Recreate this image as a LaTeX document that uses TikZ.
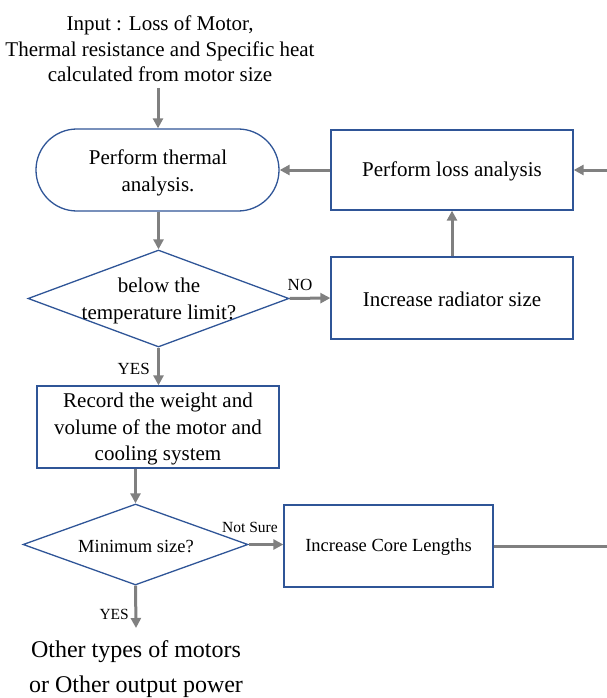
\documentclass[tikz,border=0pt]{standalone}
\usepackage{fontspec}
\setmainfont{Liberation Serif}
\usetikzlibrary{shapes.geometric,arrows.meta,positioning,calc}
\definecolor{boxblue}{HTML}{2F5597}
\definecolor{arrgray}{HTML}{808080}
\tikzset{
  bigtxt/.style={font=\fontsize{21}{26.5}\selectfont, align=center},
  midtxt/.style={font=\fontsize{18.5}{23}\selectfont, align=center},
  lbl/.style={font=\fontsize{17}{20}\selectfont, inner sep=0pt},
  slbl/.style={font=\fontsize{15.5}{18}\selectfont, inner sep=0pt},
  procbox/.style={draw=boxblue, line width=1.3pt, rectangle, inner sep=0pt},
  termbox/.style={draw=boxblue, line width=1.3pt, rectangle, rounded corners=40.9pt, inner sep=0pt},
  decbox/.style={draw=boxblue, line width=1.3pt, diamond, inner sep=0pt, aspect=2.5},
  arr/.style={draw=arrgray, line width=3pt, -{Triangle[length=10pt,width=10pt]}},
  plainline/.style={draw=arrgray, line width=3pt},
}
\begin{document}
\begin{tikzpicture}[x=1pt,y=-1pt]
\useasboundingbox (0,0) rectangle (607,698);
\begin{scope}
\clip (0,0) rectangle (607,698);
% input text
\node[bigtxt, font=\fontsize{21}{25.7}\selectfont, inner sep=0pt] (in) at (160,49) {Input : Loss of Motor,\\Thermal resistance and Specific heat\\calculated from motor size};
\coordinate (inend) at (158,88);
% nodes
\node[termbox, minimum width=243pt, minimum height=82pt] (T) at (157.5,170) {};
\node[bigtxt] (Ttxt) at (158,173) {Perform thermal\\analysis.};
\node[procbox, minimum width=242pt, minimum height=80pt] (loss) at (452,170) {};
\node[bigtxt] (losstxt) at (452,171) {Perform loss analysis};
\node[decbox, minimum width=261pt, minimum height=97pt] (d1) at (158.5,298.5) {};
\node[bigtxt] (d1txt) at (159,301) {below the\\temperature limit?};
\node[procbox, minimum width=242pt, minimum height=82pt] (rad) at (452,298) {};
\node[bigtxt] (radtxt) at (452,299) {Increase radiator size};
\node[procbox, minimum width=242pt, minimum height=82pt] (rec) at (158,427) {};
\node[bigtxt] (rectxt) at (158,429) {Record the weight and\\volume of the motor and\\cooling system};
\node[decbox, minimum width=225pt, minimum height=81pt] (d2) at (135.5,544.5) {};
\node[midtxt] (d2txt) at (136,546) {Minimum size?};
\node[procbox, minimum width=209pt, minimum height=82pt] (core) at (388.5,546) {};
\node[midtxt] (coretxt) at (388.5,547) {Increase Core Lengths};
\node[font=\fontsize{24}{35}\selectfont, align=center, inner sep=0pt] (out) at (136,669) {Other types of motors\\or Other output power};
\coordinate (outend) at (136,628);
\coordinate (offA) at (625,546);
\coordinate (offB) at (625,170);
% connectors
\draw[arr] (inend) -- (inend |- T.north);
\draw[arr] (T.south -| d1.north) -- (d1.north);
\draw[arr] (d1.east) -- (rad.west);
\node[lbl, anchor=south] (no) at (300,291) {NO};
\draw[arr] (rad.north) -- (loss.south);
\draw[arr] (loss.west) -- (loss.west -| T.east);
\draw[arr] (d1.south) -- (d1.south |- rec.north);
\node[lbl, anchor=east] (yes1) at (150,369) {YES};
\draw[arr] (rec.south -| d2.north) -- (d2.north);
\draw[arr] (d2.east) -- (d2.east -| core.west);
\node[slbl, anchor=south] (ns) at (250,533) {Not Sure};
\draw[arr] (d2.south) -- (outend);
\node[slbl, anchor=east] (yes2) at (129,614) {YES};
\draw[plainline] (core.east) -- (offA) -- (offB);
\draw[arr] (offB) -- (loss.east);
\end{scope}
\end{tikzpicture}
\end{document}
